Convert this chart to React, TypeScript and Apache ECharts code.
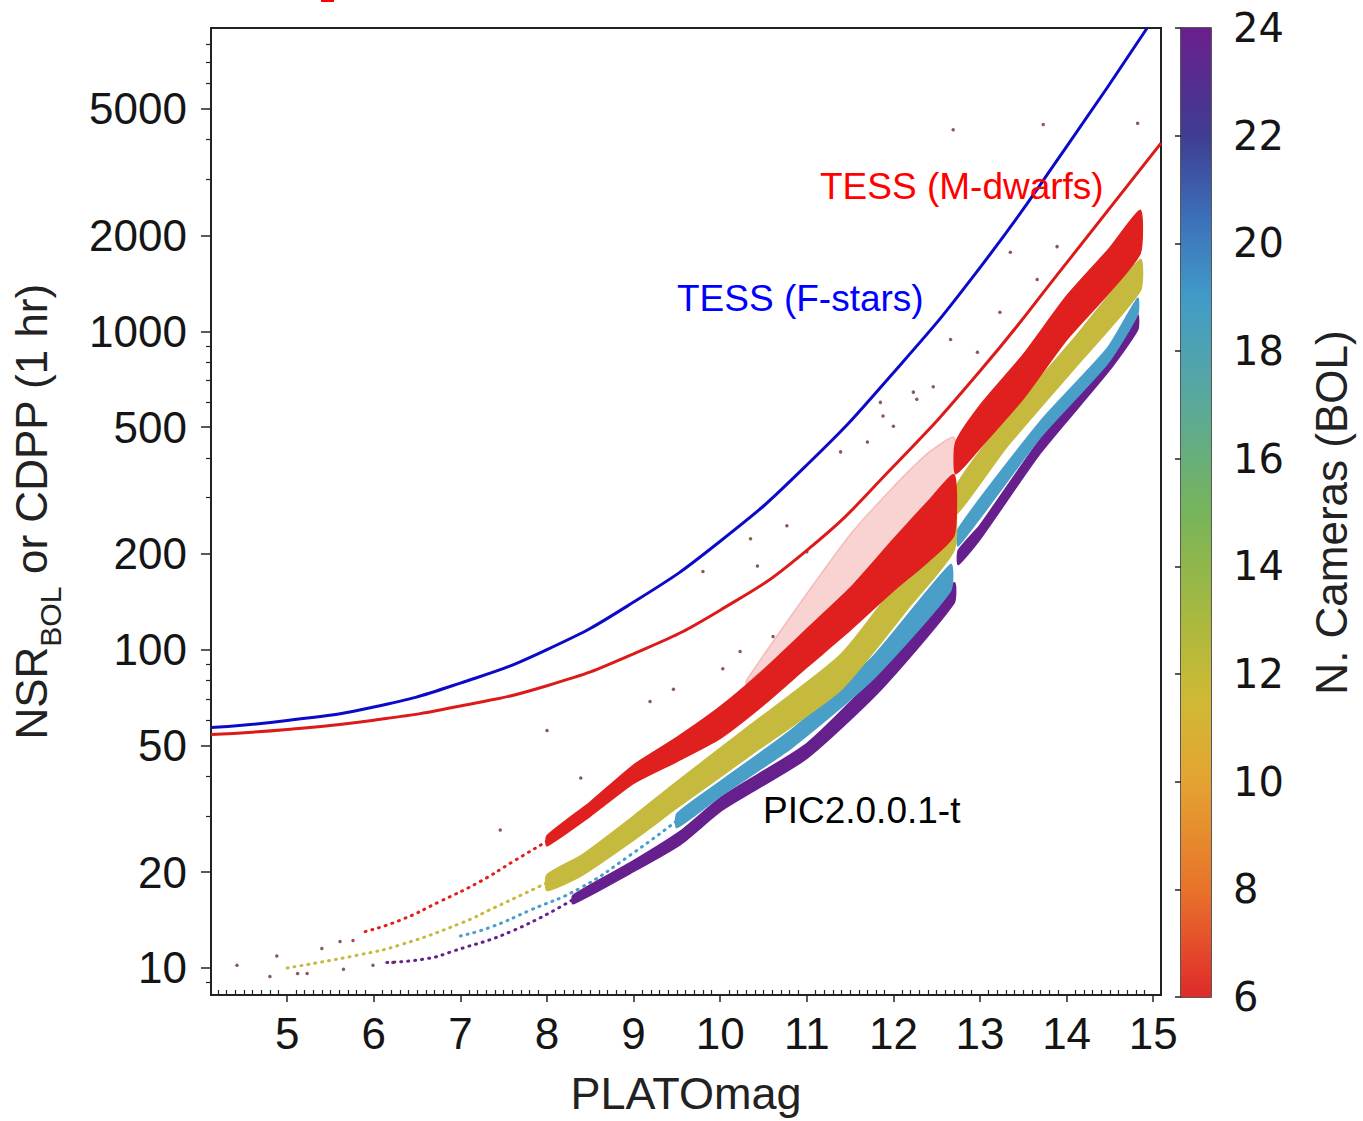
import React, { useEffect, useRef } from 'react';
import * as echarts from 'echarts';

// ---------- axis ranges & ticks ----------
const X_MIN = 4.12;
const X_MAX = 15.09;
const Y_MIN = 8.22;
const Y_MAX = 8970;
const xTickLabels = [5, 6, 7, 8, 9, 10, 11, 12, 13, 14, 15];
const yTickLabels = [10, 20, 50, 100, 200, 500, 1000, 2000, 5000];
const yMinorTicks = [9, 30, 40, 60, 70, 80, 90, 300, 400, 600, 700, 800, 900, 3000, 4000, 6000, 7000, 8000];
const cbMin = 6;
const cbMax = 24;

// ---------- TESS noise curves [PLATOmag, NSR] ----------
const tessFStars: number[][] = [
  [4.12, 56.9], [5, 59.9], [6, 66], [7, 78.5], [8, 100], [9, 141], [10, 219], [11, 380],
  [12, 741], [13, 1585], [14, 3800], [14.93, 8970],
];
const tessMDwarfs: number[][] = [
  [4.12, 54.1], [5, 56.1], [6, 60], [7, 66.5], [8, 77], [9, 97], [10, 133], [11, 205],
  [12, 376], [13, 750], [14, 1640], [15.09, 3900],
];

// ---------- PIC bands [PLATOmag, lower NSR, upper NSR] ----------
const redBandA: number[][] = [
  [8, 24.2, 26], [8.5, 30, 33.2], [9, 38, 43.4], [9.5, 44.5, 53], [10, 52.6, 66.2],
  [10.5, 67, 86.3], [11, 88, 116], [11.5, 115, 156], [12, 153, 222], [12.4, 189, 292], [12.7, 229, 354],
];
const redHalo: number[][] = [
  [10.3, 78, 80], [11, 114, 150], [11.5, 152, 230], [12, 218, 325], [12.4, 285, 415], [12.7, 345, 465],
];
const redBandB: number[][] = [
  [12.72, 357, 448], [13, 430, 585], [13.5, 615, 845], [14, 940, 1290], [14.5, 1330, 1830], [14.85, 1760, 2400],
];
const yellowBandA: number[][] = [
  [8, 17.5, 19.6], [8.4, 19.5, 22.6], [9, 25.2, 30], [9.5, 31.8, 38.5], [10.35, 46.6, 58],
  [11.4, 75, 97], [12.2, 138, 186], [12.7, 205, 285],
];
const yellowBandB: number[][] = [
  [12.72, 265, 325], [13.3, 430, 535], [14.1, 770, 960], [14.85, 1340, 1680],
];
const tealBandA: number[][] = [
  [9.5, 27.6, 30.5], [10, 34.6, 38.5], [10.84, 49.5, 56.5], [11.77, 81, 95.5], [12.66, 153, 185],
];
const tealBandB: number[][] = [
  [12.75, 212, 240], [13.7, 465, 523], [14.47, 790, 885], [14.82, 1130, 1270],
];
const purpleBandA: number[][] = [
  [8.3, 15.9, 16.9], [8.96, 19.8, 21.4], [9.54, 24.4, 26.9], [10.03, 31.4, 34.7], [11.0, 45.5, 50.7],
  [11.85, 74.5, 86], [12.7, 140, 162],
];
const purpleBandB: number[][] = [
  [12.75, 185, 205], [13.0, 222, 246], [13.7, 415, 460], [14.47, 740, 815], [14.82, 1010, 1125],
];

// ---------- sparse bright-star tails [PLATOmag, NSR] ----------
const redSparse: number[][] = [[5.9, 13.0], [6.3, 14.1], [6.77, 16.2], [7.23, 18.7], [7.61, 21.6], [8, 25]];
const yellowSparse: number[][] = [[5.0, 10.0], [5.84, 11.0], [6.3, 11.8], [7, 13.8], [7.4, 15.5], [8, 18.5]];
const tealSparse: number[][] = [[7.0, 12.6], [7.34, 13.4], [7.81, 15.2], [8.38, 17.8], [8.96, 22.6], [9.5, 29]];
const purpleSparse: number[][] = [[6.15, 10.4], [6.62, 10.7], [6.92, 11.3], [7.61, 13.1], [8.3, 16.4]];

// ---------- isolated stars [PLATOmag, NSR] ----------
const outliers: number[][] = [
  [11.85, 598], [12.23, 644], [12.46, 670], [12.0, 503], [11.39, 418], [11.7, 449], [10.77, 245],
  [10.35, 223], [9.8, 176], [10.43, 183], [11.0, 203], [9.19, 68.7], [9.46, 75.1], [10.03, 87],
  [10.23, 98.6], [10.61, 110], [12.69, 4295], [13.73, 4460], [14.82, 4500], [13.89, 1845], [13.35, 1770],
  [13.66, 1455], [13.23, 1148], [12.97, 859], [12.66, 943], [12.27, 612], [11.88, 542], [8.0, 55.7],
  [8.39, 39.5], [7.46, 27.1], [4.42, 10.2], [4.8, 9.4], [4.88, 10.9], [5.12, 9.6], [5.23, 9.6],
  [5.4, 11.5], [5.65, 9.9], [5.61, 12.1], [5.99, 10.2], [6.22, 10.4], [5.76, 12.2],
];

// ---------- colour bar ----------
const cbStopValues = [24, 22, 20.5, 19, 17, 15, 13, 11.5, 10, 8, 6];
const cbStopColors = ['#6b1f8e', '#3f3d91', '#3c6fb9', '#419bc8', '#5aa99a', '#77b45a', '#a9b93e', '#d0b935', '#e4a331', '#e8732b', '#df2a2a'];

const C_RED = '#e0201e';
const C_YEL = '#c6ba3e';
const C_TEAL = '#4a9fc8';
const C_PURP = '#66208e';

const FONT = "'Liberation Sans', Arial, sans-serif";
const lg = (v: number) => Math.log10(v);

function bandSeries(name: string, data: number[][], color: string, opacity = 1) {
  return {
    type: 'custom',
    name,
    xAxisIndex: 0,
    yAxisIndex: 0,
    silent: true,
    z: 2,
    data: data.map((d) => [d[0], lg(d[1]), lg(d[2])]),
    encode: { x: 0, y: [1, 2] },
    renderItem: (params: any, api: any) => {
      if (params.dataIndex !== 0) return null;
      const upper = data.map((d) => api.coord([d[0], lg(d[2])]));
      const lower = data.map((d) => api.coord([d[0], lg(d[1])])).reverse();
      return {
        type: 'polygon',
        shape: { points: upper.concat(lower), smooth: 0.2 },
        style: { fill: color, stroke: color, lineWidth: 1.5, opacity },
      };
    },
  };
}

function dottedSeries(name: string, data: number[][], color: string) {
  return {
    type: 'line',
    name,
    xAxisIndex: 0,
    yAxisIndex: 0,
    silent: true,
    smooth: true,
    showSymbol: false,
    z: 3,
    data: data.map((d) => [d[0], lg(d[1])]),
    lineStyle: { color, width: 3, type: [1, 6], cap: 'round' },
  };
}

function curveSeries(name: string, data: number[][], color: string) {
  return {
    type: 'line',
    name,
    xAxisIndex: 0,
    yAxisIndex: 0,
    silent: true,
    smooth: true,
    showSymbol: false,
    z: 5,
    data: data.map((d) => [d[0], lg(d[1])]),
    lineStyle: { color, width: 3 },
  };
}

const xMinorTicks: number[] = [];
for (let i = 42; i <= 150; i++) {
  if (i % 10 !== 0) xMinorTicks.push(i / 10);
}

function buildOption() {
  return {
    animation: false,
    backgroundColor: '#ffffff',
    textStyle: { fontFamily: FONT },
    grid: [
      { left: 211, top: 28, width: 950, height: 969, show: true, borderColor: '#222', borderWidth: 2, backgroundColor: 'transparent' },
      { left: 1181, top: 28, width: 30, height: 969, show: true, borderColor: '#222', borderWidth: 1.5, backgroundColor: 'transparent' },
    ],
    xAxis: [
      {
        gridIndex: 0, type: 'value', min: X_MIN, max: X_MAX, position: 'bottom',
        axisLine: { show: true, lineStyle: { color: '#222', width: 2 } },
        axisTick: { show: true, customValues: xTickLabels, length: 7, lineStyle: { color: '#222', width: 1.5 } },
        axisLabel: { customValues: xTickLabels, fontSize: 44, color: '#151515', margin: 16, fontFamily: FONT },
        splitLine: { show: false },
        name: 'PLATOmag', nameLocation: 'middle', nameGap: 76,
        nameTextStyle: { fontSize: 45, color: '#222', fontFamily: FONT },
      },
      {
        gridIndex: 0, type: 'value', min: X_MIN, max: X_MAX, position: 'bottom',
        axisLine: { show: false },
        axisTick: { show: true, inside: true, customValues: xMinorTicks, length: 5, lineStyle: { color: '#222', width: 1.2 } },
        axisLabel: { show: false },
        splitLine: { show: false },
      },
      { gridIndex: 1, type: 'value', min: 0, max: 1, show: false },
    ],
    yAxis: [
      {
        gridIndex: 0, type: 'value', min: lg(Y_MIN), max: lg(Y_MAX), position: 'left',
        axisLine: { show: true, lineStyle: { color: '#222', width: 2 } },
        axisTick: { show: true, customValues: yTickLabels.map(lg), length: 10, lineStyle: { color: '#222', width: 1.5 } },
        axisLabel: {
          customValues: yTickLabels.map(lg), fontSize: 44, color: '#151515', margin: 24, fontFamily: FONT,
          formatter: (v: number) => String(Math.round(Math.pow(10, v))),
        },
        splitLine: { show: false },
        name: '{a|NSR}{b|BOL}{a| or CDPP (1 hr)}',
        nameLocation: 'middle', nameRotate: 90, nameGap: 146,
        nameTextStyle: {
          color: '#222',
          rich: {
            a: { fontSize: 44, lineHeight: 56, verticalAlign: 'top', color: '#222', fontFamily: FONT },
            b: { fontSize: 30, lineHeight: 30, verticalAlign: 'bottom', color: '#222', fontFamily: FONT },
          },
        },
      },
      {
        gridIndex: 0, type: 'value', min: lg(Y_MIN), max: lg(Y_MAX), position: 'left',
        axisLine: { show: false },
        axisTick: { show: true, customValues: yMinorTicks.map(lg), length: 5, lineStyle: { color: '#222', width: 1.2 } },
        axisLabel: { show: false },
        splitLine: { show: false },
      },
      {
        gridIndex: 1, type: 'value', min: cbMin, max: cbMax, interval: 2, position: 'right',
        axisLine: { show: false },
        axisTick: { show: true, inside: true, length: 6, lineStyle: { color: '#222', width: 1.5 } },
        axisLabel: { fontSize: 40, color: '#151515', margin: 22, fontFamily: "'DejaVu Sans', sans-serif" },
        splitLine: { show: false },
        name: 'N. Cameras (BOL)', nameLocation: 'middle', nameRotate: 90, nameGap: 98,
        nameTextStyle: { fontSize: 44, color: '#222', fontFamily: "'Liberation Sans Narrow', 'Liberation Sans', sans-serif" },
      },
    ],
    graphic: [
      {
        type: 'rect', z: 0,
        shape: { x: 1181, y: 28, width: 30, height: 969 },
        style: {
          fill: new echarts.graphic.LinearGradient(0, 0, 0, 1,
            cbStopValues.map((v, i) => ({ offset: (cbMax - v) / (cbMax - cbMin), color: cbStopColors[i] }))),
        },
      },
      { type: 'rect', z: 10, shape: { x: 321, y: 0, width: 13, height: 2 }, style: { fill: '#ff0000' } },
      {
        type: 'text', z: 10, x: 820, y: 186,
        style: { text: 'TESS (M-dwarfs)', fill: '#ff0000', fontSize: 37, fontFamily: FONT, align: 'left', verticalAlign: 'middle' },
      },
      {
        type: 'text', z: 10, x: 677, y: 298,
        style: { text: 'TESS (F-stars)', fill: '#0000ff', fontSize: 37, fontFamily: FONT, align: 'left', verticalAlign: 'middle' },
      },
      {
        type: 'text', z: 10, x: 763, y: 810,
        style: { text: 'PIC2.0.0.1-t', fill: '#000000', fontSize: 37, fontFamily: FONT, align: 'left', verticalAlign: 'middle' },
      },
    ],
    series: [
      bandSeries('red halo', redHalo, C_RED, 0.2),
      bandSeries('purple A', purpleBandA, C_PURP),
      bandSeries('purple B', purpleBandB, C_PURP),
      bandSeries('teal A', tealBandA, C_TEAL),
      bandSeries('teal B', tealBandB, C_TEAL),
      bandSeries('yellow A', yellowBandA, C_YEL),
      bandSeries('yellow B', yellowBandB, C_YEL),
      bandSeries('red A', redBandA, C_RED),
      bandSeries('red B', redBandB, C_RED),
      dottedSeries('red sparse', redSparse, C_RED),
      dottedSeries('yellow sparse', yellowSparse, C_YEL),
      dottedSeries('teal sparse', tealSparse, C_TEAL),
      dottedSeries('purple sparse', purpleSparse, C_PURP),
      {
        type: 'scatter', name: 'outliers', xAxisIndex: 0, yAxisIndex: 0, silent: true, z: 4,
        symbolSize: 3.5,
        data: outliers.map((d) => [d[0], lg(d[1])]),
        itemStyle: { color: '#6a3232' },
      },
      curveSeries('TESS (F-stars)', tessFStars, '#0a0ac8'),
      curveSeries('TESS (M-dwarfs)', tessMDwarfs, '#dd1a1a'),
    ],
  };
}

export default function App() {
  const ref = useRef<HTMLDivElement>(null);
  useEffect(() => {
    if (!ref.current) return;
    const chart = echarts.init(ref.current, null, { renderer: 'svg' });
    chart.setOption(buildOption() as any);
    return () => chart.dispose();
  }, []);
  return (
    <div
      ref={ref}
      style={{ position: 'fixed', left: 0, top: 0, width: 1363, height: 1121, background: '#ffffff' }}
    />
  );
}
